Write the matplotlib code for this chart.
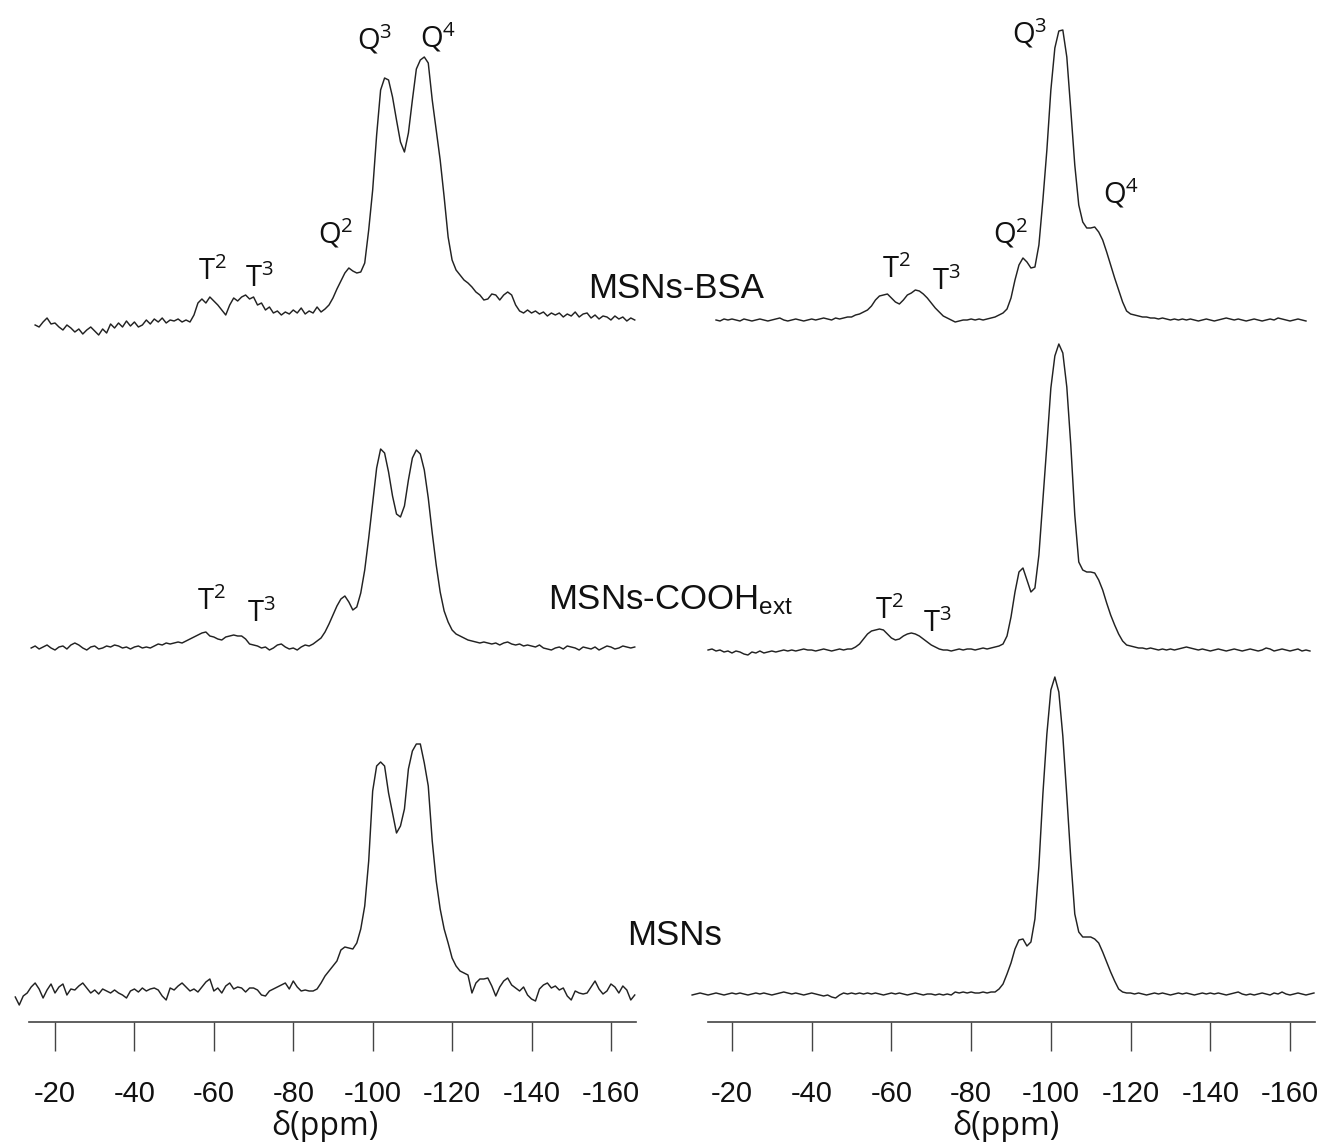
import matplotlib
matplotlib.use("Agg")
import matplotlib.pyplot as plt
import numpy as np

nan = np.nan

# chemical shift grid (ppm), -10 ... -166
ppm = np.arange(-10, -167, -1)

# left panel spectra (intensity above baseline, arbitrary units)
bsa_left = [
    nan, nan, nan, nan, nan, 0, -2, 3, 7, 1,           # -10
    2, -2, -5, 0, -3, -7, -4, -9, -5, -2,              # -20
    -6, -10, -4, -8, 1, -3, 2, -2, 4, -1,              # -30
    3, -2, 0, 5, 1, 6, 3, 7, 2, 5,                     # -40
    4, 6, 3, 5, 3, 10, 22, 26, 22, 28,                 # -50
    24, 20, 15, 10, 20, 27, 24, 28, 30, 26,            # -60
    28, 20, 22, 15, 18, 12, 14, 10, 13, 11,            # -70
    15, 12, 17, 11, 14, 12, 18, 13, 16, 20,            # -80
    27, 36, 44, 52, 57, 54, 52, 53, 62, 95,            # -90
    135, 190, 235, 247, 245, 228, 205, 183, 173, 192,  # -100
    225, 256, 265, 268, 262, 225, 195, 165, 128, 88,   # -110
    65, 55, 50, 45, 42, 38, 33, 30, 25, 26,            # -120
    31, 30, 25, 30, 33, 30, 20, 14, 12, 15,            # -130
    12, 14, 11, 13, 9, 12, 10, 12, 8, 11,              # -140
    9, 13, 8, 11, 12, 7, 10, 6, 9, 8,                  # -150
    5, 9, 6, 8, 4, 7, 5,                               # -160
]
cooh_left = [
    nan, nan, nan, nan, 0, 2, -1, 1, 3, 0,
    -2, 1, 2, -1, 3, 5, 3, 0, -2, 1,
    2, -1, 0, 2, 1, 3, 2, 0, 1, -1,
    1, 2, 0, 1, 0, 2, 4, 3, 5, 4,
    5, 6, 5, 7, 9, 11, 13, 15, 16, 12,
    11, 9, 8, 11, 12, 13, 12, 12, 9, 4,
    3, 2, 0, 1, -2, 0, 3, 4, 1, -1,
    0, -2, 1, 3, 2, 4, 7, 10, 16, 24,
    33, 42, 49, 52, 46, 38, 41, 55, 78, 110,
    145, 180, 199, 195, 176, 152, 134, 131, 142, 168,
    190, 198, 194, 178, 150, 115, 83, 56, 37, 26,
    18, 14, 12, 10, 8, 7, 6, 5, 6, 5,
    4, 5, 3, 5, 6, 4, 3, 4, 2, 3,
    2, 1, 3, 0, -1, -2, 0, 1, -1, 2,
    1, 0, -2, 1, 0, -1, 1, -2, 0, 2,
    1, -1, 0, 2, 1, 0, 1,
]
msn_left = [
    -6, -14, -5, -2, 4, 8, 2, -7, 1, 7,
    -2, 4, 7, -4, 2, 1, 5, 8, 3, -2,
    1, -3, 2, 0, -2, 1, -2, -4, -7, 0,
    2, -1, 3, 0, 2, 3, 1, -5, -9, 3,
    1, 5, 8, 4, 0, 2, -1, 4, 9, 12,
    0, 3, -2, 5, 8, 2, 4, 3, -1, 3,
    3, 1, -4, -5, 0, 2, 4, 6, 8, 2,
    10, 4, 0, 1, 0, 0, 2, 8, 15, 20,
    25, 30, 41, 44, 43, 42, 48, 62, 85, 130,
    200, 225, 229, 225, 198, 178, 158, 165, 182, 222,
    240, 247, 247, 228, 205, 150, 110, 82, 62, 48,
    33, 25, 20, 18, 16, -2, 8, 12, 12, 13,
    5, -5, 4, 10, 13, 6, 3, 0, 4, -4,
    -8, -10, 2, 6, 8, 3, 5, 1, 3, -5,
    -9, 0, -2, -3, -2, 4, 10, 2, -3, 0,
    7, 4, -2, 5, 1, -9, -4,
]

# right panel spectra
bsa_right = [
    nan, nan, nan, nan, nan, nan, 0, -1, 1, 0,
    1, 0, -1, 1, 0, -1, 0, 1, 0, -1,
    0, 1, 2, 0, -1, 0, 1, 0, -1, 0,
    1, 0, 1, 2, 1, 0, 2, 1, 2, 3,
    3, 5, 6, 8, 10, 14, 20, 24, 25, 26,
    22, 18, 16, 20, 25, 27, 30, 29, 26, 22,
    17, 12, 8, 4, 2, 0, -2, -1, 0, 0,
    1, 0, 1, 0, 1, 2, 3, 5, 7, 11,
    22, 40, 55, 62, 58, 52, 53, 75, 120, 170,
    230, 272, 289, 290, 263, 210, 155, 115, 98, 92,
    92, 93, 88, 80, 68, 55, 42, 30, 18, 9,
    6, 5, 4, 3, 3, 2, 2, 1, 2, 1,
    0, 1, 0, 1, 0, 1, 0, -1, 0, 1,
    0, -1, 0, 1, 2, 1, 0, 1, 0, -1,
    0, 1, 0, -1, 0, 1, 0, 2, 1, 0,
    -1, 0, 1, 0, -1, nan, nan,
]
cooh_right = [
    nan, nan, nan, nan, 0, 1, -1, 0, -2, -1,
    -3, -1, -2, -4, -5, -2, -3, -1, -3, -2,
    -1, -2, -1, 0, -1, 0, -1, 0, 1, 0,
    0, -1, 0, 1, 0, -1, 0, 1, 0, 1,
    1, 3, 6, 11, 16, 19, 20, 21, 20, 16,
    12, 10, 11, 14, 16, 17, 16, 14, 11, 8,
    5, 3, 1, 0, 0, -1, 0, 1, 0, 1,
    1, 0, 1, 2, 1, 2, 3, 4, 6, 14,
    33, 58, 78, 82, 70, 58, 62, 95, 150, 205,
    262, 294, 306, 297, 263, 205, 135, 88, 80, 78,
    78, 77, 70, 60, 47, 35, 25, 16, 9, 5,
    4, 3, 2, 2, 1, 2, 1, 0, 1, 0,
    1, 0, 1, 2, 3, 2, 1, 0, 1, 0,
    -1, 0, 1, 0, -1, 0, 1, 0, -1, 0,
    1, 0, -1, 0, 2, 1, -1, 0, 1, 0,
    -1, 0, 1, -1, 0, -1, nan,
]
msn_right = [
    -1, 0, 1, 0, -1, 0, 1, 0, -1, 0,
    1, 0, 1, 0, -1, 0, 1, 0, 1, 0,
    -1, 0, 1, 2, 1, 0, 1, 0, -1, 0,
    1, 0, -1, -2, -1, -3, -4, -1, 1, 0,
    1, 0, 1, 0, 1, 0, 1, 0, -1, 0,
    1, 0, 1, 0, -1, 0, 1, 0, -1, 0,
    0, -1, 0, -1, 0, -1, 2, 1, 2, 1,
    2, 1, 1, 2, 1, 2, 2, 5, 10, 20,
    31, 45, 54, 55, 48, 52, 75, 128, 200, 260,
    304, 317, 302, 258, 198, 135, 80, 62, 57, 57,
    57, 55, 51, 42, 32, 22, 13, 5, 2, 1,
    1, 0, 1, 0, -1, 0, 1, 0, 1, 0,
    -1, 0, 1, 0, 1, 0, -1, 0, 1, 0,
    1, 0, 1, 0, -1, 0, 1, 2, 0, -1,
    0, -1, 0, 1, 0, -1, 1, 0, 2, 0,
    -1, 0, 1, 0, -1, 0, 1,
]

ticks = [-20, -40, -60, -80, -100, -120, -140, -160]
samples = ["MSNs-BSA", "MSNs-COOH$_{ext}$", "MSNs"]

plt.rcParams["mathtext.default"] = "regular"
W, H = 1321, 1142
LINE = "#222222"
AXC = "#444444"
tick_font = ["Liberation Sans", "DejaVu Sans"]
lab_font = ["Open Sans", "DejaVu Sans"]

fig = plt.figure(figsize=(W / 100, H / 100), dpi=100)
ax_l = fig.add_axes([5 / W, 120 / H, 640 / W, 1022 / H])
ax_r = fig.add_axes([690 / W, 120 / H, 631 / W, 1022 / H])

panels = [
    (ax_l, (-7.41, -168.58), (-13.45, -166.3),
     [(bsa_left, 697), (cooh_left, 374), (msn_left, 31)]),
    (ax_r, (-9.47, -167.77), (-13.98, -166.3),
     [(bsa_right, 702), (cooh_right, 372), (msn_right, 28)]),
]

for ax, xlim, bounds, spectra in panels:
    for vals, off in spectra:
        ax.plot(ppm, np.array(vals, dtype=float) + off, color=LINE, lw=1.05,
                clip_on=False)
    ax.set_xlim(*xlim)
    ax.set_ylim(0, 1022)
    ax.patch.set_visible(False)
    for s in ["left", "right", "top"]:
        ax.spines[s].set_visible(False)
    ax.spines["bottom"].set_bounds(*bounds)
    ax.spines["bottom"].set_color(AXC)
    ax.spines["bottom"].set_linewidth(1.2)
    ax.set_yticks([])
    ax.set_xticks(ticks)
    ax.set_xticklabels([str(t) for t in ticks], fontfamily=tick_font)
    ax.tick_params(axis="x", direction="out", length=21, width=1.0,
                   color=AXC, labelsize=21, pad=21, labelcolor="#111111")
    ax.set_xlabel("δ(ppm)", fontsize=23, family=lab_font, labelpad=1,
                  color="#111111")

# peak labels: (text, ppm, height)
left_labels = [("Q$^3$", -96.0, 972), ("Q$^4$", -111.9, 974),
               ("Q$^2$", -86.2, 779), ("T$^2$", -56.0, 742),
               ("T$^3$", -67.8, 735), ("T$^2$", -55.8, 412),
               ("T$^3$", -68.3, 400)]
right_labels = [("Q$^3$", -90.2, 979), ("Q$^4$", -113.1, 819),
                ("Q$^2$", -85.5, 779), ("T$^2$", -57.6, 744),
                ("T$^3$", -70.2, 732), ("T$^2$", -55.9, 403),
                ("T$^3$", -67.9, 390)]
for ax, labs in [(ax_l, left_labels), (ax_r, right_labels)]:
    for txt, x, y in labs:
        ax.text(x, y, txt, fontsize=21, family=lab_font, ha="left",
                va="baseline", color="#111111")

# sample names (pixel anchors in the figure)
for name, (px, py) in zip(samples, [(588, 298), (548, 609), (627, 945)]):
    fig.text(px / W, 1 - py / H, name, fontsize=25, family=tick_font,
             ha="left", va="baseline", color="#111111")

fig.savefig("out.png", dpi=100)
